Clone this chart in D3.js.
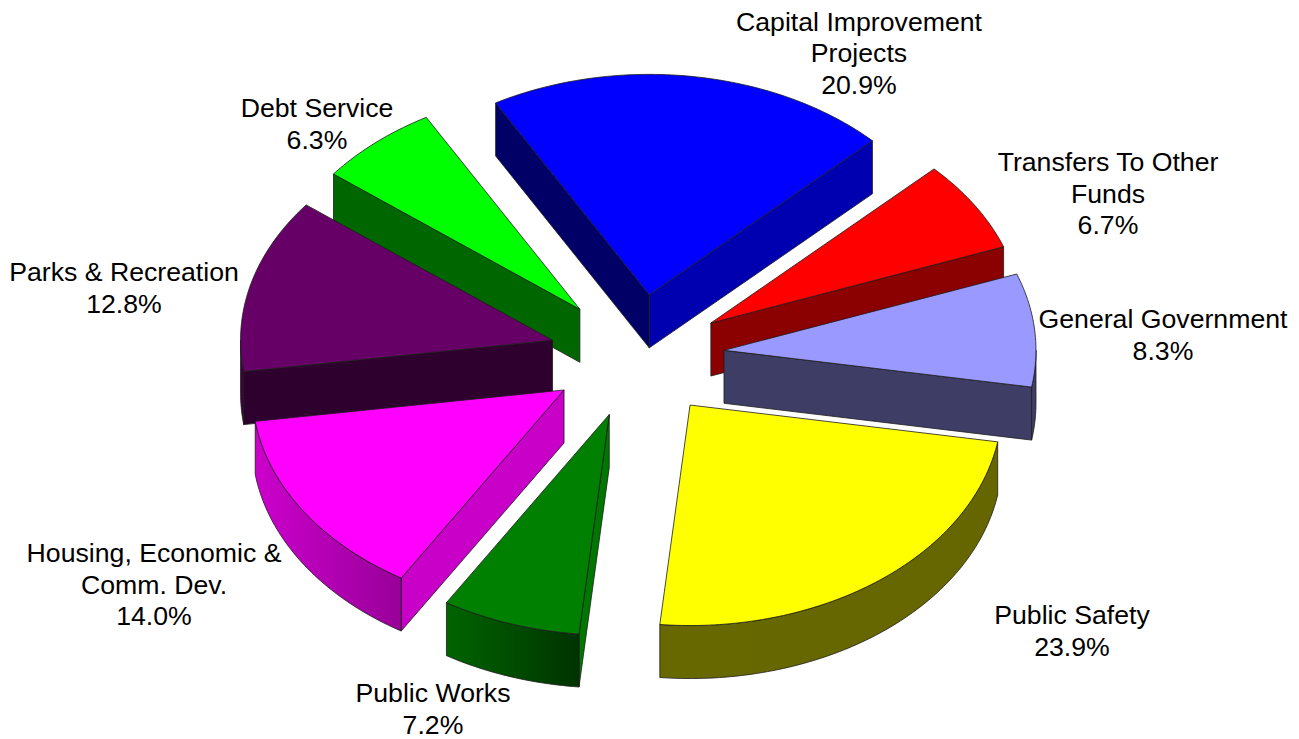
<!DOCTYPE html>
<html>
<head>
<meta charset="utf-8">
<script src="https://cdn.jsdelivr.net/npm/d3@7"></script>
<style>
  html, body { margin: 0; padding: 0; background: #fff; }
  svg { display: block; }
  text { font-family: "Liberation Sans", Arial, sans-serif; font-size: 26.67px; fill: #000; }
</style>
</head>
<body>
<div id="chart"></div>
<script>
// Budget shares, clockwise from the top of the pie.
const categories = [
  "Capital Improvement Projects", "Transfers To Other Funds", "General Government",
  "Public Safety", "Public Works", "Housing, Economic & Comm. Dev.",
  "Parks & Recreation", "Debt Service"
];
const shares = [20.9, 6.7, 8.3, 23.9, 7.2, 14.0, 12.8, 6.3];

// How each category name wraps in its label.
const labelLines = [
  ["Capital Improvement", "Projects"], ["Transfers To Other", "Funds"], ["General Government"],
  ["Public Safety"], ["Public Works"], ["Housing, Economic &", "Comm. Dev."],
  ["Parks & Recreation"], ["Debt Service"]
];
// Centre x and first-line baseline of each label.
const labelAnchors = [
  [859, 30.5], [1108, 171], [1163, 328], [1072, 624], [433, 702], [154, 562], [124, 281], [317, 117]
];

const topColors   = ["#0000ff", "#ff0000", "#9999ff", "#ffff00", "#008000", "#ff00ff", "#660066", "#00ff00"];
const startWalls  = ["#000066", "#8b0000", "#3d3d66", "#666600", "#007800", "#c800c8", "#2e002e", "#006600"];
const endWalls    = ["#0000b0", "#8b0000", "#3d3d66", "#666600", "#005000", "#c800c8", "#2e002e", "#006600"];
const rimFrom     = ["#000066", "#8b0000", "#3d3d66", "#686800", "#006400", "#cc00cc", "#4a004a", "#006600"];
const rimTo       = ["#000066", "#8b0000", "#3d3d66", "#666600", "#003300", "#990099", "#2e002e", "#006600"];

// Back-to-front painting order (indexes into the arrays above).
const paintOrder = [0, 7, 6, 1, 2, 4, 3, 5];

const width = 1299, height = 739;
const centerX = 637, centerY = 356, radiusX = 312, radiusY = 220.5;
const depth = 53, explode = 0.28;
const deg = Math.PI / 180;

const x = d3.scaleLinear().domain([-1, 1]).range([centerX - radiusX, centerX + radiusX]);
const y = d3.scaleLinear().domain([-1, 1]).range([centerY - radiusY, centerY + radiusY]);

const pie = d3.pie().sort(null).startAngle(-29.5 * deg).endAngle(330.5 * deg);
const arcs = pie(shares);

const svg = d3.select("#chart").append("svg").attr("width", width).attr("height", height);
const defs = svg.append("defs");
const line = d3.line().x(p => p[0]).y(p => p[1]);

// Unit-circle position of an angle measured clockwise from the top, pushed out by the slice offset.
function project(arc, r, angle, drop = 0) {
  const mid = (arc.startAngle + arc.endAngle) / 2;
  return [
    x(explode * Math.sin(mid) + r * Math.sin(angle)),
    y(-explode * Math.cos(mid) - r * Math.cos(angle)) + drop
  ];
}
function rimPoints(arc, from, to, drop = 0) {
  const steps = Math.max(2, Math.ceil((to - from) / deg));
  return d3.range(steps + 1).map(i => project(arc, 1, from + (to - from) * i / steps, drop));
}
function radialWall(arc, angle) {
  return line([
    project(arc, 0, angle), project(arc, 1, angle),
    project(arc, 1, angle, depth), project(arc, 0, angle, depth)
  ]) + "Z";
}

const outline = { stroke: "#1c1c1c", width: 0.8 };

paintOrder.forEach(i => {
  const arc = arcs[i];
  const g = svg.append("g").attr("class", "slice").attr("data-name", categories[i]);
  const drawFace = (d, fill) => g.append("path")
    .attr("d", d).attr("fill", fill)
    .attr("stroke", outline.stroke).attr("stroke-width", outline.width)
    .attr("stroke-linejoin", "round");

  // A cut face shows only when the slice lies behind it from the viewer's side.
  if (Math.sin(arc.endAngle) > 0) drawFace(radialWall(arc, arc.endAngle), endWalls[i]);
  if (Math.sin(arc.startAngle) < 0) drawFace(radialWall(arc, arc.startAngle), startWalls[i]);

  // Only the part of the rim on the near half of the ellipse faces the viewer.
  const from = Math.max(arc.startAngle, 90 * deg);
  const to = Math.min(arc.endAngle, 270 * deg);
  if (to > from) {
    const upper = rimPoints(arc, from, to);
    const lower = rimPoints(arc, from, to, depth).reverse();
    const xs = upper.map(p => p[0]);
    const gradId = "rim-" + i;
    const grad = defs.append("linearGradient").attr("id", gradId)
      .attr("gradientUnits", "userSpaceOnUse")
      .attr("x1", d3.min(xs)).attr("x2", d3.max(xs)).attr("y1", 0).attr("y2", 0);
    grad.append("stop").attr("offset", 0).attr("stop-color", rimFrom[i]);
    grad.append("stop").attr("offset", 1).attr("stop-color", rimTo[i]);
    drawFace(line(upper.concat(lower)) + "Z", `url(#${gradId})`);
  }

  const top = [project(arc, 0, arc.startAngle)].concat(rimPoints(arc, arc.startAngle, arc.endAngle));
  drawFace(line(top) + "Z", topColors[i]);
});

// Category labels with their percentage on the last line.
const pct = d3.format(".1f");
const lineHeight = 31.5;
labelLines.forEach((lines, i) => {
  const t = svg.append("text").attr("text-anchor", "middle");
  lines.concat(pct(shares[i]) + "%").forEach((s, k) => {
    t.append("tspan")
      .attr("x", labelAnchors[i][0])
      .attr("y", labelAnchors[i][1] + k * lineHeight)
      .text(s);
  });
});
</script>
</body>
</html>
